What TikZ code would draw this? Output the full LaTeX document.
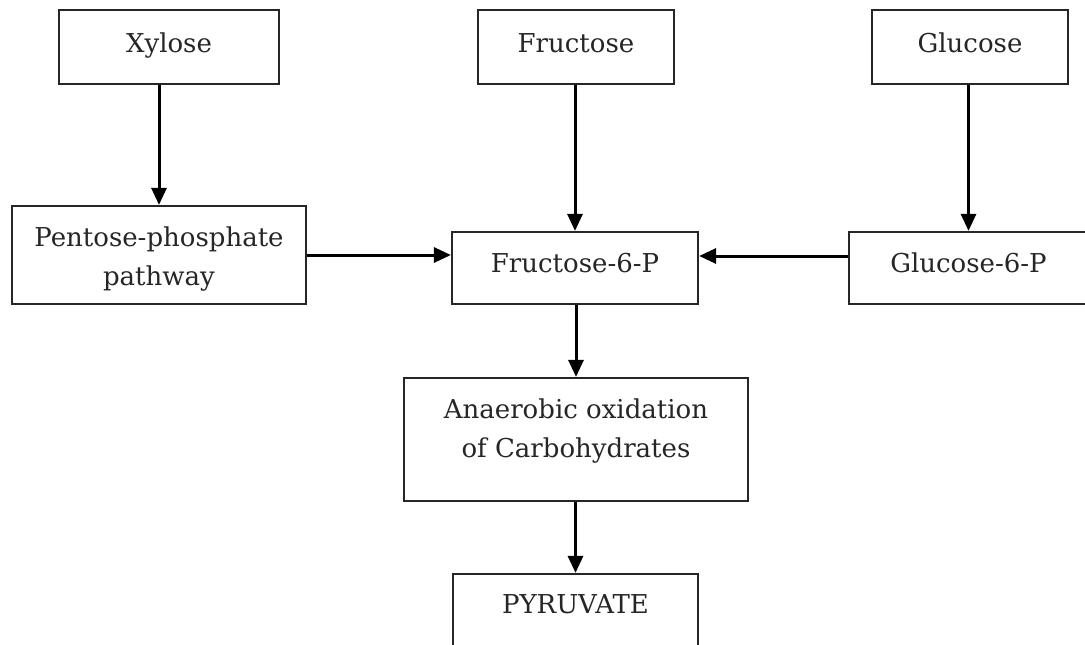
\documentclass[tikz,border=0pt]{standalone}
\usepackage{fontspec}
\setmainfont{DejaVu Serif}
\usetikzlibrary{arrows.meta}
\tikzset{
  box/.style={draw=black!85, line width=2.2pt, rectangle, inner sep=0pt,
    font=\fontsize{26}{39}\selectfont, text=black!85, align=center},
  arr/.style={line width=3pt, -{Triangle[length=17pt,width=15pt]}}
}
\begin{document}
\begin{tikzpicture}[x=1pt,y=-1pt]
\useasboundingbox (0,0) rectangle (1085,645);
\clip (0,0) rectangle (1085,645);
\node[box, minimum width=220, minimum height=74, text height=25, text depth=15] (xyl) at (169,47) {Xylose};
\node[box, minimum width=196, minimum height=74, text height=25, text depth=15] (fru) at (576,47) {Fructose};
\node[box, minimum width=196, minimum height=74, text height=25, text depth=15] (glu) at (970,47) {Glucose};
\node[box, minimum width=294, minimum height=98, text height=70, text depth=10] (ppp) at (159,255) {Pentose-phosphate\\pathway};
\node[box, minimum width=246, minimum height=72, text height=24, text depth=16] (f6p) at (575,268) {Fructose-6-P};
\node[box, minimum width=239, minimum height=72, text height=24, text depth=16] (g6p) at (968.5,268) {Glucose-6-P};
\node[box, minimum width=344, minimum height=123, text height=55, text depth=20] (ana) at (576,439.5) {Anaerobic oxidation\\of Carbohydrates};
\node[box, minimum width=245, minimum height=90, text height=14, text depth=26] (pyr) at (575.5,619) {PYRUVATE};
\draw[arr] (ppp.north |- xyl.south) -- (ppp.north);
\draw[arr] (f6p.north |- fru.south) -- (f6p.north);
\draw[arr] (g6p.north |- glu.south) -- (g6p.north);
\draw[arr] (ppp.east) -- (ppp.east -| f6p.west);
\draw[arr] ([yshift=12pt]g6p.west) -- ([yshift=12pt]f6p.east);
\draw[arr] (ana.north |- f6p.south) -- (ana.north);
\draw[arr] (pyr.north |- ana.south) -- (pyr.north);
\end{tikzpicture}
\end{document}
